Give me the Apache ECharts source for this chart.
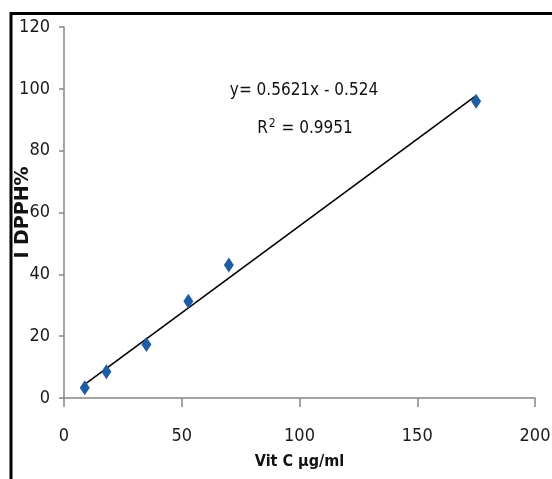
<!DOCTYPE html>
<html>
<head>
<meta charset="utf-8">
<script src="https://cdn.jsdelivr.net/npm/echarts@6/dist/echarts.min.js"></script>
<style>
  html, body { margin: 0; padding: 0; background: #fff; }
  #chart { width: 552px; height: 479px; }
</style>
</head>
<body>
<div id="chart"></div>
<script>
  // Vit C concentration vs. DPPH inhibition
  const vitC = [8.8, 18, 35, 52.8, 70, 175]
  const inhibition = [3.3, 8.5, 17.3, 31.3, 43, 96]
  // linear trend line ends (y = 0.5621x - 0.524)
  const trendX = [8.8, 175]
  const trendY = [4.4, 97.8]
  const xTicks = [0, 50, 100, 150, 200]
  const yTicks = [0, 20, 40, 60, 80, 100, 120]

  const narrow = "'Liberation Sans Narrow', 'DejaVu Sans Condensed', sans-serif"
  const axisGray = "#868686"

  let myChart = echarts.init(document.getElementById("chart"))
  myChart.setOption({
    animation: false,
    grid: {
      left: 64,
      right: 17,
      top: 27,
      bottom: 81,
      containLabel: false,
      outerBoundsMode: "none"
    },
    xAxis: {
      type: "value",
      min: xTicks[0],
      max: xTicks[xTicks.length - 1],
      interval: 50,
      name: "Vit C µg/ml",
      nameLocation: "middle",
      nameGap: 56,
      nameMoveOverlap: false,
      nameTextStyle: {
        fontFamily: narrow,
        fontWeight: "bold",
        fontSize: 16,
        color: "#111"
      },
      splitLine: {show: false},
      axisLine: {lineStyle: {color: axisGray, width: 1.5}},
      axisTick: {show: true, length: 9, lineStyle: {color: axisGray, width: 1.5}},
      axisLabel: {
        margin: 29,
        fontFamily: narrow,
        fontSize: 18,
        color: "#1a1a1a"
      }
    },
    yAxis: {
      type: "value",
      min: yTicks[0],
      max: yTicks[yTicks.length - 1],
      interval: 20,
      name: "I DPPH%",
      nameLocation: "middle",
      nameGap: 31,
      nameMoveOverlap: false,
      nameTextStyle: {
        fontFamily: "'DejaVu Sans', sans-serif",
        fontWeight: "bold",
        fontSize: 19,
        color: "#111"
      },
      splitLine: {show: false},
      axisLine: {show: true, lineStyle: {color: axisGray, width: 1.5}},
      axisTick: {show: true, length: 5, lineStyle: {color: axisGray, width: 1.5}},
      axisLabel: {
        margin: 14,
        fontFamily: narrow,
        fontSize: 18,
        color: "#1a1a1a"
      }
    },
    graphic: [
      {
        type: "line",
        shape: {x1: 10, y1: 13.5, x2: 552, y2: 13.5},
        style: {stroke: "#000", lineWidth: 3}
      },
      {
        type: "line",
        shape: {x1: 11, y1: 12, x2: 11, y2: 479},
        style: {stroke: "#000", lineWidth: 3}
      },
      {
        type: "text",
        x: 304,
        y: 91,
        style: {
          text: "y= 0.5621x - 0.524",
          fontFamily: narrow,
          fontSize: 17,
          fill: "#111",
          align: "center",
          verticalAlign: "middle"
        }
      },
      {
        type: "text",
        x: 305,
        y: 129,
        style: {
          text: "R{sup|2} = 0.9951",
          fontFamily: narrow,
          fontSize: 17,
          fill: "#111",
          align: "center",
          verticalAlign: "middle",
          rich: {
            sup: {fontFamily: narrow, fontSize: 12, verticalAlign: "top", padding: [0, 1, 10, 1], fill: "#111"}
          }
        }
      }
    ],
    series: [
      {
        name: "趋势线",
        type: "line",
        data: trendX.map((x, i) => [x, trendY[i]]),
        symbol: "none",
        lineStyle: {color: "#000", width: 1.6},
        z: 2
      },
      {
        name: "I DPPH%",
        type: "scatter",
        data: vitC.map((x, i) => [x, inhibition[i]]),
        symbol: "diamond",
        symbolSize: [10, 15],
        itemStyle: {color: "#1f5ca3", opacity: 1},
        z: 3
      }
    ]
  })
</script>
</body>
</html>
